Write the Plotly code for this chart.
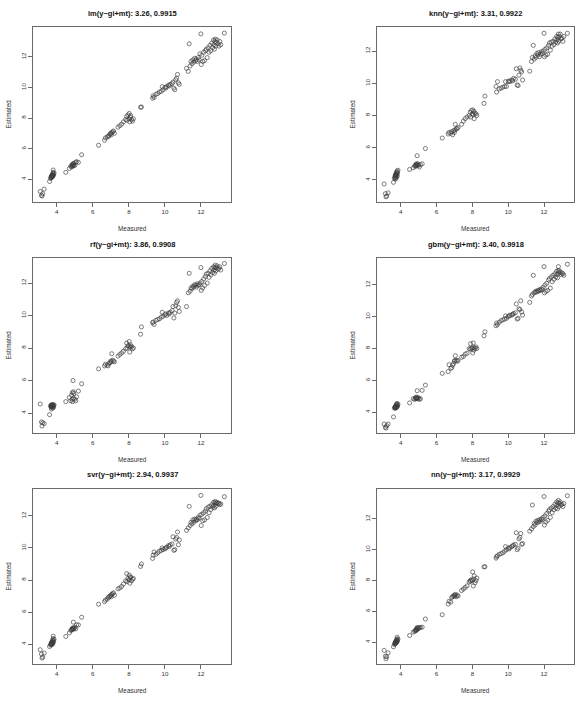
import plotly.graph_objects as go

W, H = 578, 708

# ---------------- data ----------------
measured = [
    3.08, 3.15, 3.18, 3.22, 3.3,
    3.6, 3.65, 3.68, 3.7, 3.7, 3.72, 3.73, 3.74, 3.75, 3.76, 3.77, 3.78, 3.8, 3.8, 3.81, 3.82, 3.85, 3.7,
    4.5,
    4.7, 4.78, 4.82, 4.85, 4.86, 4.88, 4.9, 4.92, 4.93, 4.95, 5.0, 5.05, 5.1, 5.2,
    5.38,
    6.32,
    6.65, 6.7, 6.8, 6.85, 6.9, 6.95, 7.0, 7.02, 7.05, 7.1, 7.15, 7.2,
    7.4, 7.5, 7.6, 7.7,
    7.82, 7.88, 7.9, 7.95, 8.0, 8.02, 8.05, 8.08, 8.1, 8.15, 8.2, 8.25,
    8.65, 8.7,
    9.32, 9.35, 9.4, 9.5, 9.6, 9.7, 9.8, 9.85, 9.9, 10.0, 10.05, 10.1, 10.2, 10.25, 10.3, 10.4, 10.45, 10.5, 10.55, 10.6, 10.65, 10.7, 10.75, 10.8,
    11.2, 11.3, 11.35, 11.4, 11.45, 11.5, 11.55, 11.6, 11.65, 11.7, 11.75, 11.8, 11.85, 11.9, 11.95,
    12.0, 12.02, 12.05, 12.1, 12.15, 12.2, 12.25, 12.3, 12.35, 12.4, 12.45, 12.5, 12.55, 12.6, 12.65, 12.7, 12.72, 12.75, 12.78, 12.8, 12.82, 12.85, 12.9, 12.95, 13.0, 13.05, 13.1, 13.3,
]

est_lm = [
    3.2, 2.95, 2.9, 3.05, 3.35,
    3.85, 4.05, 4.1, 4.15, 4.2, 4.18, 4.22, 4.25, 4.2, 4.3, 4.15, 4.35, 4.45, 4.6, 4.25, 4.3, 4.4, 4.12,
    4.45,
    4.7, 4.85, 4.8, 4.95, 4.9, 4.85, 5.0, 4.95, 4.88, 5.05, 4.9, 5.1, 5.15, 5.1,
    5.6,
    6.22,
    6.55, 6.7, 6.75, 6.8, 6.85, 6.95, 7.0, 6.9, 7.05, 7.1, 7.15, 7.0,
    7.4, 7.5, 7.6, 7.75,
    7.9, 8.1, 7.85, 8.2, 7.95, 8.3, 7.75, 8.05, 8.15, 7.9, 7.8, 7.95,
    8.7, 8.72,
    9.3, 9.45, 9.35, 9.55, 9.6, 9.7, 9.75, 10.05, 9.85, 10.0, 9.95, 10.05, 10.15, 10.1, 10.2, 10.25, 10.35, 9.95, 9.85, 10.5, 10.6, 10.85, 10.3, 10.2,
    11.25, 11.05, 12.85, 11.4, 11.7, 11.55, 11.8, 11.65, 11.9, 11.75, 11.85, 11.7, 11.95, 11.8, 12.2,
    13.5, 11.5, 12.1, 11.7, 12.3, 11.75, 12.4, 12.5, 11.95, 12.6, 12.3, 12.75, 12.4, 12.9, 12.6, 13.1, 12.8, 12.5, 13.0, 13.15, 12.7, 12.95, 13.1, 12.85, 12.7, 13.0, 12.8, 13.55,
]

est_knn = [
    3.75, 3.15, 2.95, 3.0, 3.2,
    3.85, 4.1, 4.2, 4.15, 4.3, 4.25, 4.35, 4.1, 4.4, 4.3, 4.2, 4.5, 4.45, 4.55, 4.25, 4.4, 4.6, 4.05,
    4.65,
    4.75, 4.85, 4.9, 4.95, 4.85, 5.0, 4.9, 5.5, 4.95, 5.0, 4.9, 4.8, 4.95, 5.0,
    5.95,
    6.6,
    6.85, 6.95, 6.9, 7.0, 6.8, 7.05, 6.95, 7.1, 7.45, 7.15, 7.2, 7.25,
    7.45, 7.65, 7.8, 7.9,
    8.0, 8.2, 7.9, 8.3, 8.1, 8.35, 8.05, 8.25, 7.8, 8.15, 8.1, 8.0,
    8.75, 9.2,
    9.8, 9.45, 10.1, 9.65, 9.7, 9.75, 9.8, 10.1, 9.8, 10.1, 10.15, 10.1, 10.2, 10.15, 10.3, 10.25, 10.9, 9.9, 9.85, 10.5, 10.95, 10.8, 10.7, 10.2,
    10.75, 11.35, 11.6, 12.35, 11.5, 11.7, 11.6, 11.85, 11.75, 11.9, 11.65, 11.8, 11.95, 11.85, 12.0,
    13.1, 11.65, 12.1, 11.75, 12.2, 11.8, 12.35, 12.5, 12.05, 12.55, 12.3, 12.6, 12.4, 12.75, 12.55, 12.9, 12.7, 12.5, 12.85, 13.05, 12.6, 12.9, 13.05, 12.75, 12.8, 12.6, 12.9, 13.1,
]

est_rf = [
    4.55, 3.45, 3.2, 3.4, 3.35,
    3.9, 4.45, 4.4, 4.5, 4.35, 4.45, 4.4, 4.5, 4.45, 4.4, 4.3, 4.5, 4.45, 4.4, 4.5, 4.35, 4.5, 4.25,
    4.7,
    4.95, 4.75, 5.1, 4.85, 5.25, 4.7, 6.0, 5.3, 4.9, 5.2, 4.85, 4.75, 5.0, 5.35,
    5.8,
    6.72,
    6.9, 7.0, 6.95, 6.9, 7.05, 7.1, 7.2, 7.15, 7.65, 7.25, 7.2, 7.15,
    7.5, 7.6, 7.7, 7.8,
    7.95, 8.3, 8.0, 8.15, 8.1, 8.4, 7.75, 8.2, 8.05, 8.1, 7.95, 8.0,
    8.85, 9.3,
    9.55, 9.6, 9.45, 9.7, 9.75, 9.8, 9.9, 10.2, 9.95, 10.05, 10.1, 10.0, 10.15, 10.1, 10.2, 10.3, 10.55, 9.85, 10.15, 10.6, 10.8, 10.9, 10.5, 10.25,
    10.55, 11.4, 12.6, 11.5, 11.7, 11.65, 11.8, 11.75, 11.9, 11.85, 11.75, 11.95, 11.85, 11.9, 12.0,
    12.95, 11.55, 12.1, 11.7, 12.25, 11.85, 12.4, 12.55, 12.0, 12.6, 12.35, 12.75, 12.5, 12.9, 12.65, 13.0, 12.8, 12.6, 12.95, 13.1, 12.75, 12.95, 13.05, 12.85, 12.9, 13.0, 12.8, 13.2,
]

est_gbm = [
    3.25, 3.05, 3.0, 3.15, 3.25,
    3.7, 4.25, 4.3, 4.35, 4.3, 4.25, 4.4, 4.3, 4.35, 4.45, 4.3, 4.5, 4.4, 4.55, 4.35, 4.4, 4.5, 4.28,
    4.58,
    4.85, 4.8, 4.9, 4.85, 4.9, 4.95, 4.85, 5.35, 4.9, 4.85, 4.9, 4.8, 4.85, 5.37,
    5.7,
    6.44,
    6.55, 6.98, 6.75, 6.8, 6.95, 7.05, 7.2, 7.25, 7.55, 7.25, 7.2, 7.25,
    7.45, 7.5, 7.65, 7.7,
    8.0, 7.95, 8.3, 8.0, 8.05, 7.72, 8.35, 7.9, 8.05, 8.0, 8.1, 8.0,
    8.8, 9.05,
    9.43, 9.6, 9.5, 9.65, 9.75, 9.8, 9.85, 10.05, 9.9, 10.0, 10.05, 10.1, 10.1, 10.15, 10.2, 10.25, 10.8, 9.85, 9.9, 10.5, 10.45, 11.0, 10.3, 10.1,
    10.9, 11.3, 11.4, 12.6, 11.5, 11.55, 11.6, 11.55, 11.65, 11.6, 11.7, 11.65, 11.75, 11.7, 11.85,
    13.15, 11.5, 12.0, 11.6, 12.1, 11.65, 12.3, 12.4, 11.8, 12.5, 12.2, 12.6, 12.35, 12.7, 12.5, 12.85, 12.65, 12.45, 12.9, 13.15, 12.75, 12.9, 12.8, 12.65, 12.75, 12.7, 12.6, 13.3,
]

est_svr = [
    3.65, 3.38, 3.13, 3.2, 3.44,
    3.85, 3.95, 4.0, 4.05, 4.1, 4.0, 4.05, 4.15, 4.1, 4.2, 4.0, 4.25, 4.35, 4.5, 4.1, 4.2, 4.3, 3.95,
    4.48,
    4.7, 4.85, 4.9, 4.95, 4.9, 5.0, 4.95, 5.37, 5.0, 4.95, 5.05, 4.95, 5.2, 5.2,
    5.68,
    6.49,
    6.65, 6.75, 6.8, 6.9, 6.95, 7.0, 7.05, 6.95, 7.1, 7.15, 7.2, 7.05,
    7.45, 7.5, 7.6, 7.75,
    7.95, 8.4, 7.9, 8.1, 8.0, 8.3, 7.8, 8.15, 8.2, 7.95, 8.05, 8.1,
    8.85, 9.0,
    9.35, 9.55, 9.75, 9.6, 9.7, 9.8, 9.85, 10.0, 9.9, 9.95, 10.0, 10.05, 10.15, 10.1, 10.2, 10.25, 10.7, 9.85, 9.9, 10.55, 10.65, 11.0, 10.2, 10.5,
    11.1, 11.25, 12.6, 11.4, 11.6, 11.5, 11.75, 11.6, 11.8, 11.7, 11.8, 11.75, 11.9, 11.85, 12.05,
    13.28, 11.4, 12.1, 11.7, 12.2, 11.75, 12.3, 12.45, 11.9, 12.55, 12.2, 12.6, 12.4, 12.7, 12.55, 12.85, 12.65, 12.5, 12.8, 12.9, 12.6, 12.8, 12.85, 12.75, 12.8, 12.7, 12.75, 13.2,
]

est_nn = [
    3.46, 3.08, 2.92, 3.05, 3.3,
    3.7, 3.85, 3.9, 3.95, 4.0, 3.95, 4.0, 4.05, 3.95, 4.1, 4.0, 4.15, 4.2, 4.32, 4.05, 4.1, 4.2, 3.9,
    4.43,
    4.65, 4.7, 4.75, 4.8, 4.75, 4.85, 4.8, 4.95, 4.9, 4.85, 4.9, 4.95, 4.95, 4.97,
    5.5,
    5.78,
    6.47, 6.65, 6.6, 6.9, 6.95, 7.0, 7.05, 7.0, 7.1, 6.95, 7.05, 7.0,
    7.35, 7.45, 7.55, 7.65,
    7.9, 8.0, 7.95, 8.05, 8.0, 8.56, 7.65, 8.1, 8.3, 7.85, 8.0, 8.15,
    8.88, 8.9,
    9.45, 9.55, 9.6, 9.7, 9.75, 9.8, 9.9, 10.2, 10.0, 10.1, 10.05, 10.15, 10.2, 10.25, 10.3, 10.35, 11.1, 10.0, 10.1, 10.7, 10.8, 11.05, 10.35, 10.4,
    11.2, 11.35, 12.9, 11.5, 11.7, 11.6, 11.85, 11.75, 11.9, 11.8, 11.95, 11.85, 12.0, 11.95, 12.1,
    13.45, 11.6, 12.2, 11.8, 12.35, 11.9, 12.5, 12.6, 12.1, 12.7, 12.4, 12.8, 12.6, 12.95, 12.7, 13.1, 12.9, 12.65, 13.05, 13.2, 12.8, 13.0, 13.1, 12.9, 12.95, 12.8, 13.0, 13.5,
]

titles = ["lm(y~gi+mt): 3.26, 0.9915", "knn(y~gi+mt): 3.31, 0.9922",
          "rf(y~gi+mt): 3.86, 0.9908", "gbm(y~gi+mt): 3.40, 0.9918",
          "svr(y~gi+mt): 2.94, 0.9937", "nn(y~gi+mt): 3.17, 0.9929"]
estimates = [est_lm, est_knn, est_rf, est_gbm, est_svr, est_nn]
tick_values = [4, 6, 8, 10, 12]
x_label = "Measured"
y_label = "Estimated"

for e in estimates:
    assert len(e) == len(measured), len(e)

# ---------------- layout geometry (pixels) ----------------
col_lr = [(33, 231), (377, 574)]
row_tb = [(27, 202), (258, 433), (489, 664)]
x_range = [2.68, 13.67]
y_ranges = [[2.51, 13.95], [2.63, 13.49], [2.77, 13.54],
            [2.69, 13.69], [2.76, 13.68], [2.58, 13.94]]

fig = go.Figure()
annotations = []
font_family = "Liberation Sans, Arial, sans-serif"

for i in range(6):
    r, c = divmod(i, 2)
    L, R = col_lr[c]
    T, B = row_tb[r]
    ax = "" if i == 0 else str(i + 1)
    fig.add_trace(go.Scatter(
        x=measured, y=estimates[i], mode="markers",
        xaxis="x" + ax, yaxis="y" + ax,
        marker=dict(symbol="circle-open", size=4.1, color="#3a3a3a",
                    line=dict(width=0.65, color="#3a3a3a")),
        showlegend=False, hoverinfo="x+y"))
    common = dict(showline=True, mirror=True, linecolor="#6a6a6a", linewidth=1,
                  ticks="outside", ticklen=4, tickwidth=1, tickcolor="#6a6a6a",
                  tickvals=tick_values, showgrid=False, zeroline=False,
                  tickfont=dict(family=font_family, size=6.2, color="#333"))
    fig.update_layout(**{
        "xaxis" + ax: dict(domain=[L / W, R / W], range=x_range,
                           anchor="y" + ax, **common),
        "yaxis" + ax: dict(domain=[1 - B / H, 1 - T / H], range=y_ranges[i],
                           anchor="x" + ax, tickangle=-90, **common),
    })
    cx = (L + R) / 2
    cy = (T + B) / 2
    annotations.append(dict(text="<b>" + titles[i] + "</b>", x=cx / W, y=1 - (T - 14) / H,
                            xref="paper", yref="paper", showarrow=False,
                            xanchor="center", yanchor="middle",
                            font=dict(family=font_family, size=7.5, color="#111")))
    annotations.append(dict(text=x_label, x=cx / W, y=1 - (B + 26) / H,
                            xref="paper", yref="paper", showarrow=False,
                            xanchor="center", yanchor="middle",
                            font=dict(family=font_family, size=6.4, color="#333")))
    annotations.append(dict(text=y_label, x=(L - 25) / W, y=1 - cy / H,
                            xref="paper", yref="paper", showarrow=False, textangle=-90,
                            xanchor="center", yanchor="middle",
                            font=dict(family=font_family, size=6.4, color="#333")))

fig.update_layout(width=W, height=H, margin=dict(l=0, r=0, t=0, b=0),
                  paper_bgcolor="white", plot_bgcolor="white",
                  annotations=annotations, showlegend=False)

fig.write_html("out.html")
